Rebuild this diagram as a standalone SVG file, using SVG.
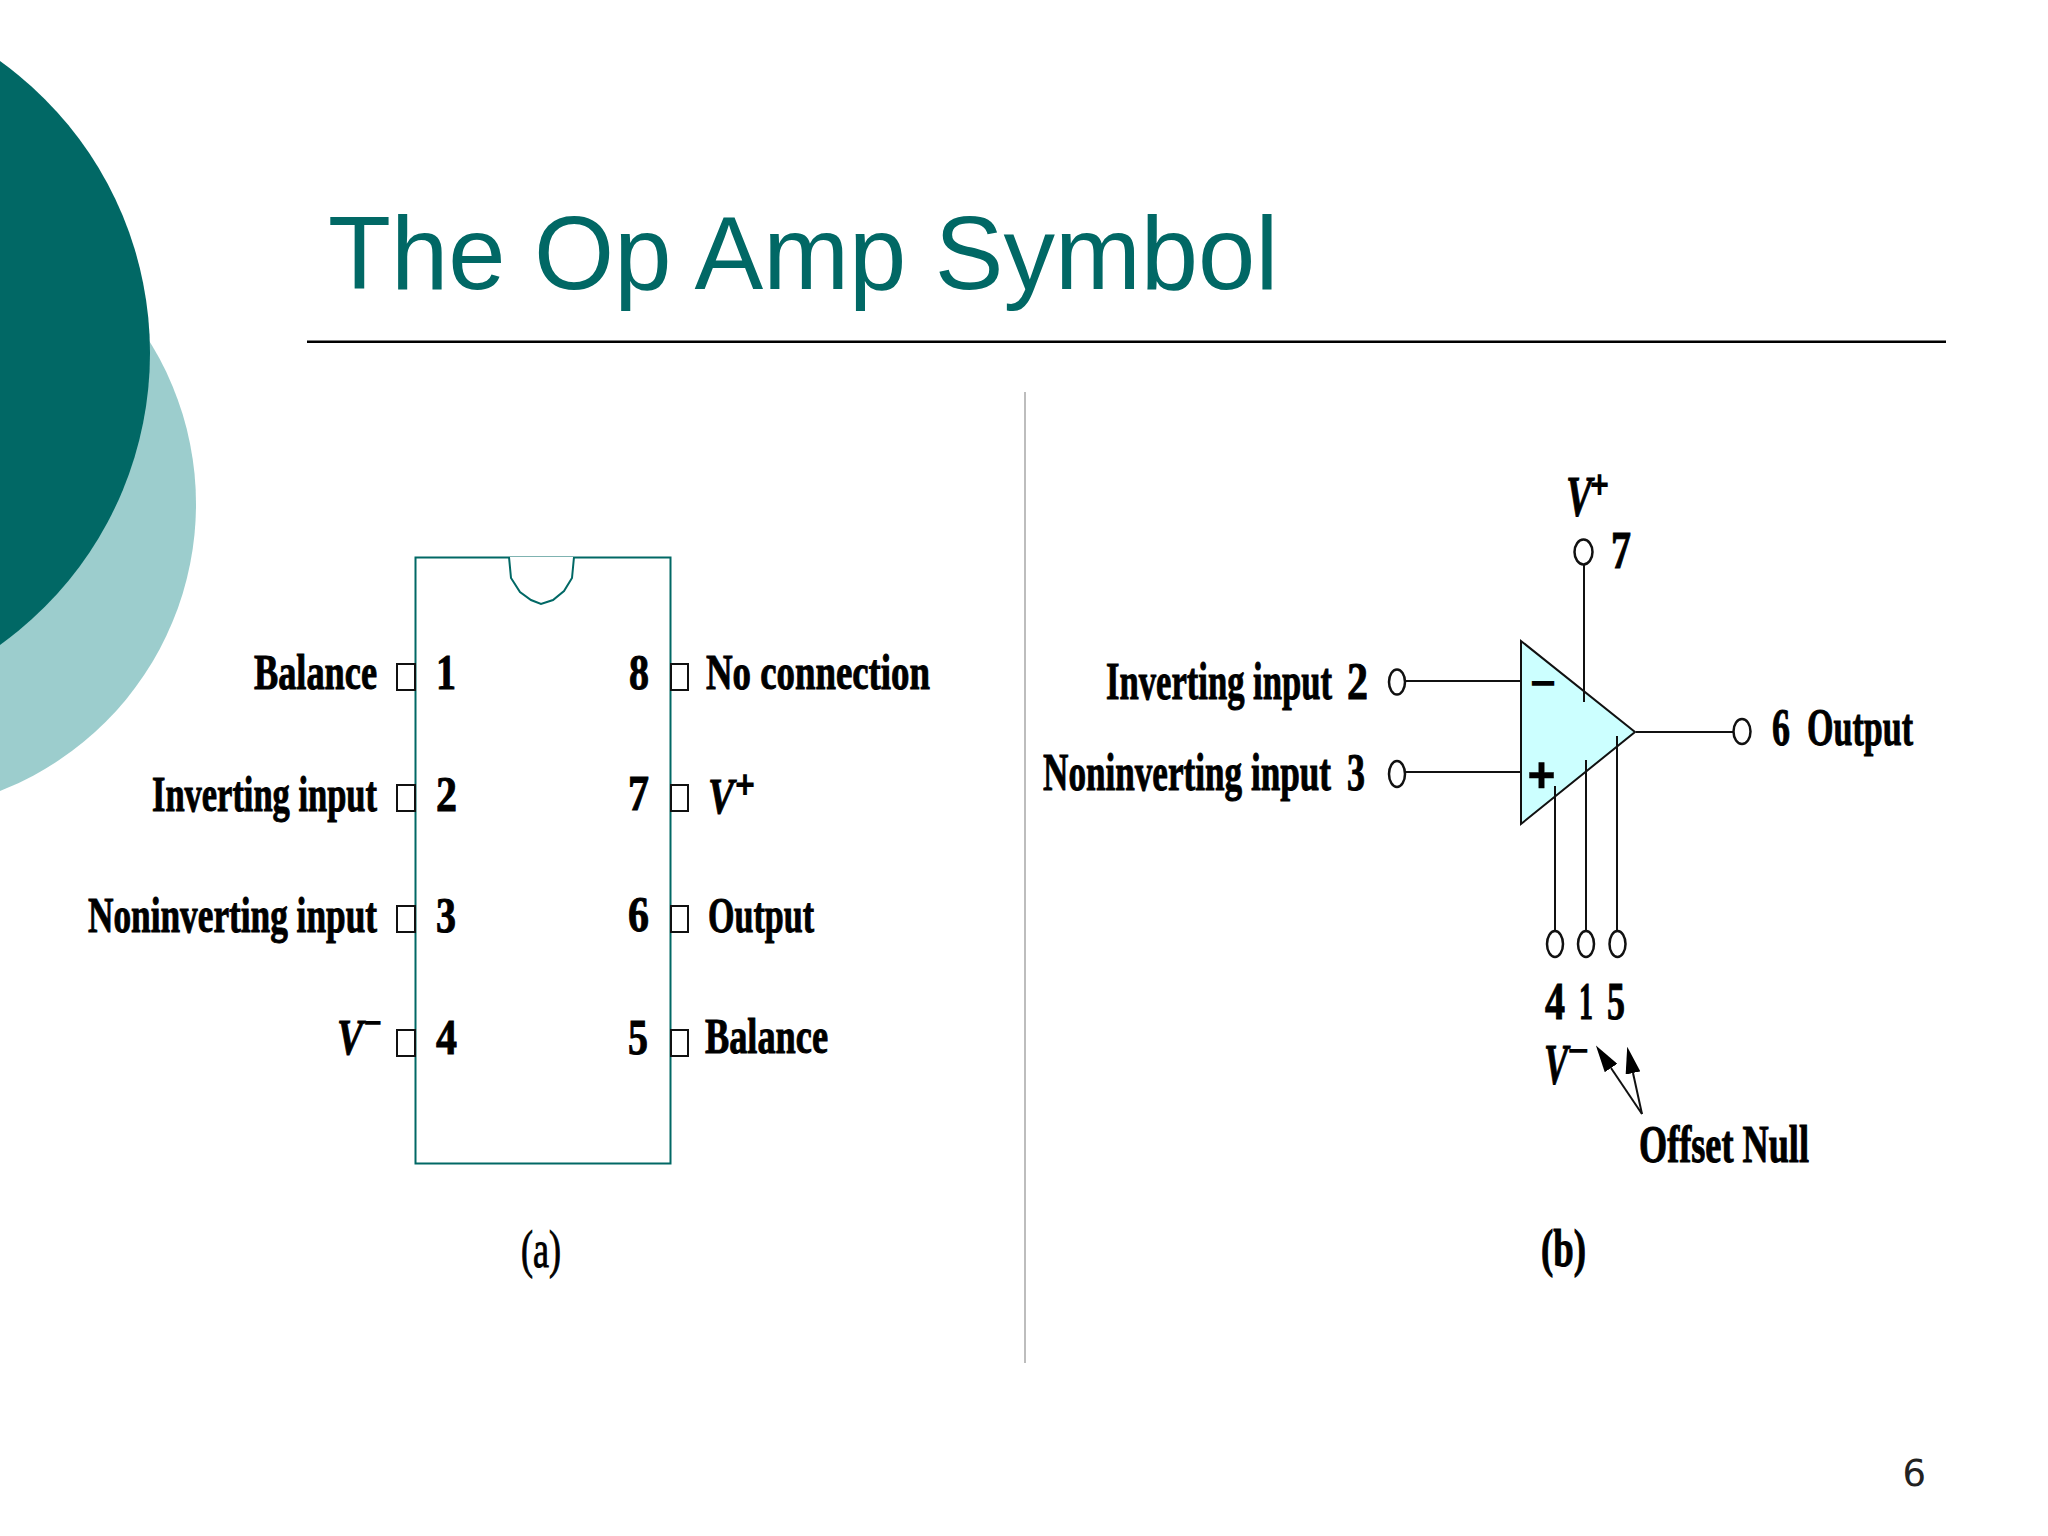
<svg xmlns="http://www.w3.org/2000/svg" width="2048" height="1536" viewBox="0 0 2048 1536">
<style>
.t{font-family:"Liberation Serif","Times New Roman",serif;font-weight:bold;font-size:51px;fill:#000;stroke:#000;stroke-width:1px}
.b{font-size:53px}
.v{font-size:57px}
.i{font-style:italic}
.n{font-weight:normal}
.s{font-family:"Liberation Sans",Arial,sans-serif;font-weight:bold;fill:#000}
.pin{fill:#fff;stroke:#111;stroke-width:2}
.term{fill:#fff;stroke:#111;stroke-width:2.500}
.w{stroke:#111;stroke-width:2;fill:none}
</style>
<defs>
<marker id="ah" viewBox="0 0 10 10" refX="0" refY="5" markerWidth="27" markerHeight="15" markerUnits="userSpaceOnUse" orient="auto" preserveAspectRatio="none"><path d="M0 0L10 5L0 10Z" fill="#000"/></marker>
</defs>
<rect width="2048" height="1536" fill="#fff"/>
<g id="decor">
<circle cx="-112" cy="504" r="308" fill="#9ccdcd"/>
<circle cx="-209" cy="353" r="359" fill="#016865"/>
</g>
<g id="title">
<text x="328" y="289" font-family="'Liberation Sans',Arial,sans-serif" font-size="103" fill="#016865">The Op Amp Symbol</text>
<rect x="307" y="340.500" width="1639" height="2.500" fill="#000"/>
</g>
<rect id="divider" x="1024" y="392" width="2" height="971" fill="#bdbdbd"/>
<g id="chip-a">
<path d="M415.500 557.500H670.500V1163.500H415.500Z" fill="#fff" stroke="#016865" stroke-width="2"/>
<path d="M509 557L511 578L520 592L531 600L541 604L553 600L564 591L572 578L574 557" fill="#fff" stroke="#016865" stroke-width="2"/>
</g>
<g id="pins-left">
<rect class="pin" x="397" y="664" width="18" height="26"/>
<rect class="pin" x="397" y="785" width="18" height="26"/>
<rect class="pin" x="397" y="906" width="18" height="26"/>
<rect class="pin" x="397" y="1030" width="18" height="26"/>
</g>
<g id="pins-right">
<rect class="pin" x="671" y="664" width="17" height="26"/>
<rect class="pin" x="671" y="785" width="17" height="26"/>
<rect class="pin" x="671" y="906" width="17" height="26"/>
<rect class="pin" x="671" y="1030" width="17" height="26"/>
</g>
<g id="labels-a" transform="scale(.75 1)">
<text class="t" x="338.670" y="689" textLength="164" lengthAdjust="spacingAndGlyphs">Balance</text>
<text class="t" x="202.670" y="811" textLength="300" lengthAdjust="spacingAndGlyphs">Inverting input</text>
<text class="t" x="117.330" y="932" textLength="385.330" lengthAdjust="spacingAndGlyphs">Noninverting input</text>
<text class="t i" x="449.330" y="1054" textLength="34.670" lengthAdjust="spacingAndGlyphs">V</text>
<text class="s" x="485.330" y="1034" font-size="34" textLength="24" lengthAdjust="spacingAndGlyphs">−</text>
<text class="t" x="581.330" y="689" textLength="26.670" lengthAdjust="spacingAndGlyphs">1</text>
<text class="t" x="581.330" y="811" textLength="28" lengthAdjust="spacingAndGlyphs">2</text>
<text class="t" x="581.330" y="932" textLength="26.670" lengthAdjust="spacingAndGlyphs">3</text>
<text class="t" x="581.330" y="1054" textLength="28" lengthAdjust="spacingAndGlyphs">4</text>
<text class="t" x="838.670" y="689" textLength="26.670" lengthAdjust="spacingAndGlyphs">8</text>
<text class="t" x="837.330" y="810" textLength="28" lengthAdjust="spacingAndGlyphs">7</text>
<text class="t" x="837.330" y="931" textLength="28" lengthAdjust="spacingAndGlyphs">6</text>
<text class="t" x="837.330" y="1054" textLength="26.670" lengthAdjust="spacingAndGlyphs">5</text>
<text class="t" x="941.330" y="689" textLength="298.670" lengthAdjust="spacingAndGlyphs">No connection</text>
<text class="t i" x="944" y="813" textLength="34.670" lengthAdjust="spacingAndGlyphs">V</text>
<text class="s" x="980" y="798" font-size="40" textLength="26.670" lengthAdjust="spacingAndGlyphs">+</text>
<text class="t" x="944" y="932" textLength="141.330" lengthAdjust="spacingAndGlyphs">Output</text>
<text class="t" x="940" y="1053" textLength="164" lengthAdjust="spacingAndGlyphs">Balance</text>
<text class="t b n" x="694.670" y="1267" textLength="53.330" lengthAdjust="spacingAndGlyphs">(a)</text>
</g>
<g id="connectors">
<line class="w" x1="1405" y1="681" x2="1521" y2="681"/>
<line class="w" x1="1405" y1="772" x2="1521" y2="772"/>
<line class="w" x1="1636" y1="732" x2="1733" y2="732"/>
<line class="w" x1="1642" y1="1114" x2="1611" y2="1068" marker-end="url(#ah)"/>
<line class="w" x1="1642" y1="1114" x2="1633" y2="1073" marker-end="url(#ah)"/>
</g>
<g id="opamp">
<path d="M1521 641V824L1635 732Z" fill="#ccffff" stroke="#111" stroke-width="2"/>
<text class="s" x="1530" y="698" font-size="44" textLength="26" lengthAdjust="spacingAndGlyphs">−</text>
<text class="s" x="1527.500" y="792" font-size="50" textLength="28" lengthAdjust="spacingAndGlyphs" stroke="#000" stroke-width=".5">+</text>
<line class="w" x1="1584" y1="564" x2="1584" y2="702"/>
<line class="w" x1="1555" y1="786" x2="1555" y2="931"/>
<line class="w" x1="1586" y1="760" x2="1586" y2="931"/>
<line class="w" x1="1617" y1="736" x2="1617" y2="931"/>
</g>
<g id="terminals">
<ellipse class="term" cx="1397" cy="682" rx="8" ry="12.500"/>
<ellipse class="term" cx="1397" cy="774" rx="8" ry="13"/>
<ellipse class="term" cx="1583.500" cy="552" rx="9" ry="12.500"/>
<ellipse class="term" cx="1742" cy="731.500" rx="8.500" ry="12.500"/>
<ellipse class="term" cx="1555" cy="944" rx="8" ry="13"/>
<ellipse class="term" cx="1586" cy="944" rx="8" ry="13"/>
<ellipse class="term" cx="1617.500" cy="944" rx="8" ry="13"/>
</g>
<g id="labels-b" transform="scale(.75 1)">
<text class="t b" x="1474.670" y="699" textLength="301.330" lengthAdjust="spacingAndGlyphs">Inverting input</text>
<text class="t b" x="1796" y="699" textLength="28" lengthAdjust="spacingAndGlyphs">2</text>
<text class="t b" x="1390.670" y="790" textLength="384" lengthAdjust="spacingAndGlyphs">Noninverting input</text>
<text class="t b" x="1796" y="790" textLength="24" lengthAdjust="spacingAndGlyphs">3</text>
<text class="t i v" x="2088" y="516" textLength="34.670" lengthAdjust="spacingAndGlyphs">V</text>
<text class="s" x="2120" y="498" font-size="40" textLength="25.330" lengthAdjust="spacingAndGlyphs">+</text>
<text class="t b" x="2148" y="568" textLength="26.670" lengthAdjust="spacingAndGlyphs">7</text>
<text class="t b" x="2362.670" y="745" textLength="24" lengthAdjust="spacingAndGlyphs">6</text>
<text class="t b" x="2409.330" y="745" textLength="141.330" lengthAdjust="spacingAndGlyphs">Output</text>
<text class="t b" x="2060" y="1019" textLength="26.670" lengthAdjust="spacingAndGlyphs">4</text>
<text class="t b" x="2105.330" y="1019" textLength="18.670" lengthAdjust="spacingAndGlyphs">1</text>
<text class="t b" x="2142.670" y="1019" textLength="24" lengthAdjust="spacingAndGlyphs">5</text>
<text class="t i v" x="2058.670" y="1084" textLength="32" lengthAdjust="spacingAndGlyphs">V</text>
<text class="s" x="2090.670" y="1062" font-size="34" textLength="28" lengthAdjust="spacingAndGlyphs">−</text>
<text class="t b" x="2185.330" y="1162" textLength="226.670" lengthAdjust="spacingAndGlyphs">Offset Null</text>
<text class="t b" x="2054.670" y="1266" textLength="60" lengthAdjust="spacingAndGlyphs">(b)</text>
</g>
<text id="page-number" x="1902.500" y="1486" font-family="'DejaVu Sans',Verdana,sans-serif" font-size="37" fill="#222">6</text>
</svg>
